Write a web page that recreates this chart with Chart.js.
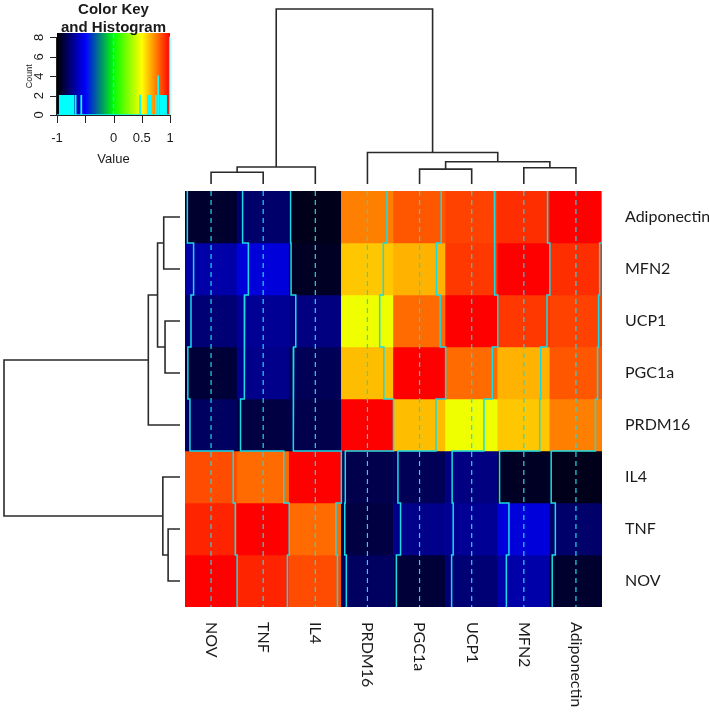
<!DOCTYPE html>
<html>
<head>
<meta charset="utf-8">
<title>Correlation heatmap</title>
<script src="https://cdn.jsdelivr.net/npm/chart.js@4.4.1/dist/chart.umd.min.js"></script>
<style>
  html, body { margin: 0; padding: 0; background: #ffffff; }
  #page { position: relative; width: 709px; height: 713px; overflow: hidden; }
  #page canvas { position: absolute; }
</style>
</head>
<body>
<div id="page">
  <canvas id="heat" width="709" height="713" style="left:0;top:0"></canvas>
  <canvas id="colDend" width="417" height="191" style="left:185px;top:0"></canvas>
  <canvas id="rowDend" width="185" height="416" style="left:0;top:191px"></canvas>
  <canvas id="key" width="185" height="175" style="left:0;top:0"></canvas>
</div>
<script>
// column order (left to right) and row order (top to bottom) as in the figure
const colLabels = ["NOV", "TNF", "IL4", "PRDM16", "PGC1a", "UCP1", "MFN2", "Adiponectin"];
const rowLabels = ["Adiponectin", "MFN2", "UCP1", "PGC1a", "PRDM16", "IL4", "TNF", "NOV"];

// correlation values per row, columns in colLabels order
const rowAdiponectin = [-0.91, -0.79, -0.95, 0.75, 0.83, 0.87, 0.91, 1.00];
const rowMFN2        = [-0.67, -0.57, -0.93, 0.61, 0.65, 0.89, 1.00, 0.91];
const rowUCP1        = [-0.77, -0.71, -0.75, 0.47, 0.79, 1.00, 0.89, 0.87];
const rowPGC1a       = [-0.89, -0.73, -0.83, 0.63, 1.00, 0.79, 0.65, 0.83];
const rowPRDM16      = [-0.81, -0.87, -0.85, 1.00, 0.63, 0.47, 0.61, 0.75];
const rowIL4         = [0.85, 0.79, 1.00, -0.85, -0.83, -0.75, -0.93, -0.95];
const rowTNF         = [0.93, 1.00, 0.79, -0.87, -0.73, -0.71, -0.57, -0.79];
const rowNOV         = [1.00, 0.93, 0.85, -0.81, -0.89, -0.77, -0.67, -0.91];
const heatRows = [rowAdiponectin, rowMFN2, rowUCP1, rowPGC1a, rowPRDM16, rowIL4, rowTNF, rowNOV];

// hierarchical clustering (same tree for rows and columns), hclust style merges
// numbers refer to earlier merge steps (1-based)
const mergeLeft   = ["NOV", "UCP1", "MFN2", 1, 2, "PRDM16", 4];
const mergeRight  = ["TNF", "PGC1a", "Adiponectin", "IL4", 3, 5, 6];
const mergeHeight = [0.27, 0.34, 0.37, 0.39, 0.51, 0.72, 4.0];

// colour key
const palette = ["#000000", "#0000FF", "#00FF00", "#FFFF00", "#FF0000"];
const keyTicks = [-1, -0.5, 0, 0.5, 1];
const keyTickLabels = ["-1", "", "0", "0.5", "1"];
const countTicks = [0, 2, 4, 6, 8];
const histBins = 300;

const traceColor = "#19dbe6";
const textColor = "#1a1a1a";

function hexToRgb(h) {
  return [1, 3, 5].map(i => parseInt(h.slice(i, i + 2), 16));
}

function colorFor(v) {
  const t = Math.min(Math.max((v + 1) / 2, 0), 1) * (palette.length - 1);
  const i = Math.min(Math.floor(t), palette.length - 2);
  const f = t - i;
  const a = hexToRgb(palette[i]), b = hexToRgb(palette[i + 1]);
  const c = a.map((x, k) => Math.round(x + (b[k] - x) * f));
  return `rgb(${c[0]},${c[1]},${c[2]})`;
}

// histogram of all matrix values (right-closed bins like R's hist)
function histogramPoints(values) {
  const w = 2 / histBins;
  const counts = new Array(histBins).fill(0);
  values.forEach(v => {
    let k = Math.ceil((v + 1) / w) - 1;
    k = Math.max(0, Math.min(histBins - 1, k));
    counts[k]++;
  });
  const pts = counts.map((c, k) => ({ x: -1 + k * w, y: c }));
  pts.push({ x: 1, y: counts[histBins - 1] });
  return pts;
}

function baseOptions(padding, xScale, yScale) {
  return {
    responsive: false,
    animation: false,
    devicePixelRatio: 1,
    events: [],
    layout: { padding },
    plugins: { legend: { display: false }, tooltip: { enabled: false } },
    scales: {
      x: Object.assign({ type: "linear", display: false, offset: false }, xScale),
      y: Object.assign({ type: "linear", display: false, offset: false }, yScale)
    }
  };
}

// ---- heatmap ----
const cellSets = heatRows.map((vals, r) => ({
  type: "bar",
  data: vals.map((v, c) => ({ x: c + 0.5, y: [r, r + 1] })),
  backgroundColor: vals.map(colorFor),
  borderWidth: 0,
  barPercentage: 1,
  categoryPercentage: 1,
  grouped: false,
  order: 3
}));

const vlineSets = colLabels.map((_, c) => ({
  type: "line",
  data: [{ x: c + 0.5, y: 0 }, { x: c + 0.5, y: 8 }],
  borderColor: traceColor,
  borderWidth: 1.2,
  borderDash: [5, 4],
  pointRadius: 0,
  order: 2
}));

// column traces: x offset inside each cell follows the value (-1 left edge, 1 right edge)
const traceSets = colLabels.map((_, c) => {
  const pts = [];
  heatRows.forEach((vals, r) => {
    const x = c + (vals[c] + 1) / 2;
    pts.push({ x, y: r }, { x, y: r + 1 });
  });
  return { type: "line", data: pts, borderColor: traceColor, borderWidth: 1.5, pointRadius: 0, order: 1 };
});

const heatLabels = {
  id: "heatLabels",
  afterDraw(chart) {
    const { ctx, chartArea, scales: { x, y } } = chart;
    ctx.save();
    ctx.fillStyle = textColor;
    ctx.font = "16px Lato";
    ctx.textBaseline = "middle";
    ctx.textAlign = "left";
    rowLabels.forEach((lab, r) => ctx.fillText(lab, chartArea.right + 23, y.getPixelForValue(r + 0.5)));
    colLabels.forEach((lab, c) => {
      ctx.save();
      ctx.translate(x.getPixelForValue(c + 0.5), chartArea.bottom + 15);
      ctx.rotate(Math.PI / 2);
      ctx.fillText(lab, 0, 0);
      ctx.restore();
    });
    ctx.restore();
  }
};

new Chart(document.getElementById("heat"), {
  type: "bar",
  data: { datasets: [...traceSets, ...vlineSets, ...cellSets] },
  options: baseOptions({ left: 185, top: 191, right: 107, bottom: 106 },
    { min: 0, max: 8 }, { min: 0, max: 8, reverse: true }),
  plugins: [heatLabels]
});

// ---- dendrograms ----
function dendroSets(order, horizontal) {
  const pos = {}, ht = {};
  order.forEach((name, i) => { pos[name] = i + 0.5; ht[name] = 0; });
  return mergeHeight.map((h, k) => {
    const a = mergeLeft[k], b = mergeRight[k];
    pos[k + 1] = (pos[a] + pos[b]) / 2;
    ht[k + 1] = h;
    const pts = [[pos[a], ht[a]], [pos[a], h], [pos[b], h], [pos[b], ht[b]]];
    return {
      data: pts.map(([p, v]) => horizontal ? { x: v, y: p } : { x: p, y: v }),
      borderColor: "#2a2a2a",
      borderWidth: 1.6,
      pointRadius: 0,
      clip: false
    };
  });
}

new Chart(document.getElementById("colDend"), {
  type: "line",
  data: { datasets: dendroSets(colLabels, false) },
  options: baseOptions({ left: 0, right: 0, top: 9, bottom: 7 },
    { min: 0, max: 8 }, { min: 0, max: 4.0 })
});

new Chart(document.getElementById("rowDend"), {
  type: "line",
  data: { datasets: dendroSets(rowLabels, true) },
  options: baseOptions({ left: 4, right: 5, top: 0, bottom: 0 },
    { min: 0, max: 4.0, reverse: true }, { min: 0, max: 8, reverse: true })
});

// ---- colour key and histogram ----
const keyDecor = {
  id: "keyDecor",
  beforeDatasetsDraw(chart) {
    const { ctx, chartArea, scales: { x } } = chart;
    const x0 = x.getPixelForValue(-1), x1 = x.getPixelForValue(1);
    const g = ctx.createLinearGradient(x0, 0, x1, 0);
    palette.forEach((col, i) => g.addColorStop(i / (palette.length - 1), col));
    ctx.save();
    ctx.fillStyle = g;
    ctx.fillRect(x0, chartArea.top, x1 - x0, chartArea.bottom - chartArea.top);
    ctx.restore();
  },
  afterDraw(chart) {
    const { ctx, chartArea, scales: { x, y } } = chart;
    const base = chartArea.bottom;
    const left = chartArea.left;
    ctx.save();
    ctx.strokeStyle = "#222";
    ctx.fillStyle = textColor;
    ctx.lineWidth = 1;

    // x axis
    ctx.beginPath();
    ctx.moveTo(x.getPixelForValue(-1), base + 0.5);
    ctx.lineTo(x.getPixelForValue(1), base + 0.5);
    keyTicks.forEach(t => {
      const px = Math.round(x.getPixelForValue(t)) + 0.5;
      ctx.moveTo(px, base);
      ctx.lineTo(px, base + 8);
    });
    ctx.stroke();
    ctx.font = "13px 'Liberation Sans'";
    ctx.textAlign = "center";
    ctx.textBaseline = "middle";
    keyTicks.forEach((t, i) => ctx.fillText(keyTickLabels[i], x.getPixelForValue(t), base + 23));
    ctx.fillText("Value", x.getPixelForValue(0), base + 44);

    // y axis
    ctx.beginPath();
    ctx.moveTo(left - 0.5, y.getPixelForValue(0));
    ctx.lineTo(left - 0.5, y.getPixelForValue(8));
    countTicks.forEach(t => {
      const py = Math.round(y.getPixelForValue(t)) + 0.5;
      ctx.moveTo(left, py);
      ctx.lineTo(left - 7, py);
    });
    ctx.stroke();
    countTicks.forEach(t => {
      ctx.save();
      ctx.translate(left - 18, y.getPixelForValue(t));
      ctx.rotate(-Math.PI / 2);
      ctx.fillText(String(t), 0, 0);
      ctx.restore();
    });
    ctx.save();
    ctx.font = "9px 'Liberation Sans'";
    ctx.translate(left - 27, y.getPixelForValue(4));
    ctx.rotate(-Math.PI / 2);
    ctx.fillText("Count", 0, 0);
    ctx.restore();

    // title
    ctx.font = "bold 15px 'Liberation Sans'";
    ctx.fillText("Color Key", x.getPixelForValue(0), 10);
    ctx.fillText("and Histogram", x.getPixelForValue(0), 28);
    ctx.restore();
  }
};

new Chart(document.getElementById("key"), {
  type: "line",
  data: {
    datasets: [
      {
        data: histogramPoints(heatRows.flat()),
        stepped: true,
        borderColor: "#00FFFF",
        borderWidth: 1.4,
        pointRadius: 0,
        clip: false
      },
      {
        data: [{ x: 0, y: 0 }, { x: 0, y: 8.45 }],
        borderColor: "#00FFFF",
        borderWidth: 1.2,
        borderDash: [4, 3],
        pointRadius: 0
      }
    ]
  },
  options: baseOptions({ left: 57, right: 15, top: 33, bottom: 60 },
    { min: -1, max: 1 }, { min: 0, max: 8.45 }),
  plugins: [keyDecor]
});
</script>
</body>
</html>
